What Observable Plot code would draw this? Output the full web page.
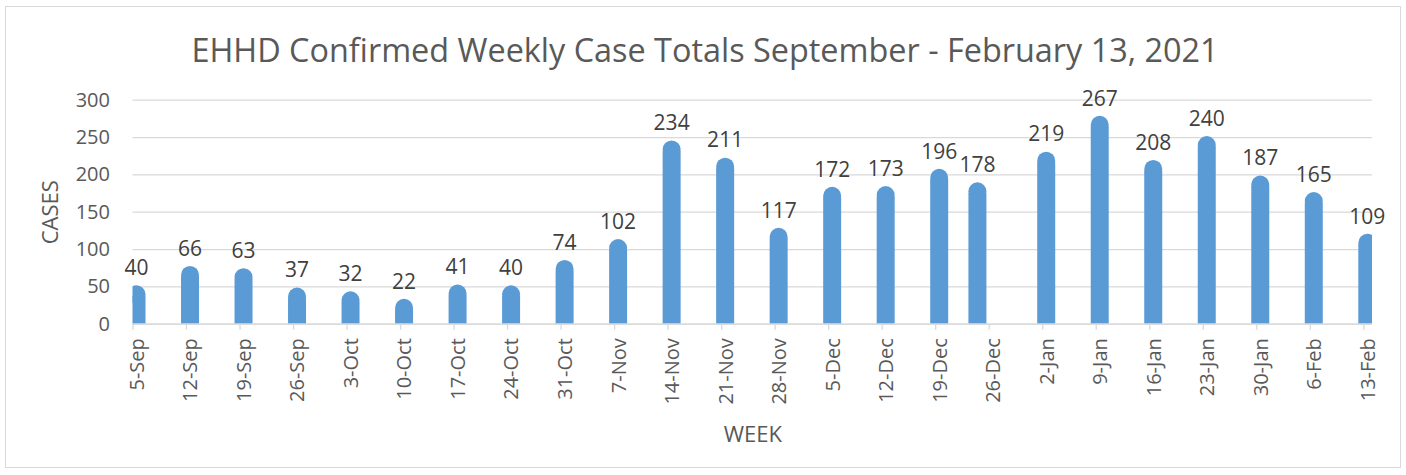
<!DOCTYPE html>
<html>
<head>
<meta charset="utf-8">
<script src="https://cdn.jsdelivr.net/npm/d3@7"></script>
<script src="https://cdn.jsdelivr.net/npm/@observablehq/plot@0.6"></script>
<style>
  html, body { margin: 0; padding: 0; background: #ffffff; }
  #wrap { position: relative; width: 1406px; height: 475px; overflow: hidden; font-family: 'Open Sans', sans-serif; }
  #border { position: absolute; left: 5px; top: 6px; width: 1396px; height: 462px; border: 1.5px solid #d9d9d9; box-sizing: border-box; }
  #title { position: absolute; left: 0; top: 33px; width: 1410px; text-align: center; font-size: 32.4px; line-height: 1; color: #595959; white-space: nowrap; }
  #chart { position: absolute; left: 0; top: 80px; }
</style>
</head>
<body>
<div id="wrap">
  <div id="border"></div>
  <div id="title">EHHD Confirmed Weekly Case Totals September - February 13, 2021</div>
  <div id="chart"></div>
</div>
<script>
// Bar dates (the 26-Dec week bar sits at 24-Dec in the original date axis)
const barDates = ["2020-09-05","2020-09-12","2020-09-19","2020-09-26","2020-10-03","2020-10-10","2020-10-17","2020-10-24","2020-10-31","2020-11-07","2020-11-14","2020-11-21","2020-11-28","2020-12-05","2020-12-12","2020-12-19","2020-12-24","2021-01-02","2021-01-09","2021-01-16","2021-01-23","2021-01-30","2021-02-06","2021-02-13"];
const cases = [40,66,63,37,32,22,41,40,74,102,234,211,117,172,173,196,178,219,267,208,240,187,165,109];
const weekTicks = ["2020-09-05","2020-09-12","2020-09-19","2020-09-26","2020-10-03","2020-10-10","2020-10-17","2020-10-24","2020-10-31","2020-11-07","2020-11-14","2020-11-21","2020-11-28","2020-12-05","2020-12-12","2020-12-19","2020-12-26","2021-01-02","2021-01-09","2021-01-16","2021-01-23","2021-01-30","2021-02-06","2021-02-13"];
const yTicks = [0, 50, 100, 150, 200, 250, 300];
const xDomain = ["2020-09-05", "2021-02-14T03:20Z"];
const yDomain = [0, 300];

const data = barDates.map((d, i) => ({date: new Date(d), cases: cases[i]}));
const weeks = weekTicks.map(d => new Date(d));
const fmt = d3.utcFormat("%-d-%b");
const blue = "#5b9bd5";
const grid = "#d9d9d9";

const chart = Plot.plot({
  width: 1406,
  height: 395,
  marginLeft: 132.5,
  marginRight: 34,
  marginTop: 19.7,
  marginBottom: 151.3,
  style: {fontFamily: "'Open Sans', sans-serif", fontSize: "20px", color: "#595959", background: "transparent", overflow: "visible"},
  x: {type: "utc", domain: xDomain.map(d => new Date(d))},
  y: {domain: yDomain},
  marks: [
    Plot.gridY(yTicks, {stroke: grid, strokeOpacity: 1, strokeWidth: 1.3}),
    Plot.ruleX(data, {x: "date", y1: 0, y2: "cases", stroke: blue, strokeWidth: 18, dx: 3.5, clip: true, insetBottom: -2}),
    Plot.dot(data, {x: "date", y: "cases", r: 9, fill: blue, stroke: "none", dx: 3.5, clip: true}),
    Plot.ruleY([0], {stroke: grid, strokeWidth: 1.3}),
    Plot.ruleX(weeks, {x: d => d, y1: 0, y2: 0, insetBottom: -6, stroke: grid, strokeWidth: 1.3}),
    Plot.axisX({ticks: weeks, tickSize: 0, tickPadding: 14, tickRotate: -90, tickFormat: fmt, dx: 4.5, fill: "#595959", fontSize: 20, label: null}),
    Plot.axisY({ticks: yTicks, tickSize: 0, tickPadding: 23, fill: "#595959", fontSize: 20, label: null}),
    Plot.text(data, {x: "date", y: "cases", text: d => String(d.cases), dx: 3.5, dy: -26, fontSize: 21, fill: "#404040"}),
    Plot.text(["CASES"], {frameAnchor: "left", textAnchor: "middle", lineAnchor: "middle", dx: -82.5, rotate: -90, fontSize: 22, fill: "#595959"}),
    Plot.text(["WEEK"], {frameAnchor: "bottom", textAnchor: "middle", lineAnchor: "middle", dy: 111, fontSize: 22, fill: "#595959"})
  ]
});
document.getElementById("chart").appendChild(chart);
</script>
</body>
</html>
